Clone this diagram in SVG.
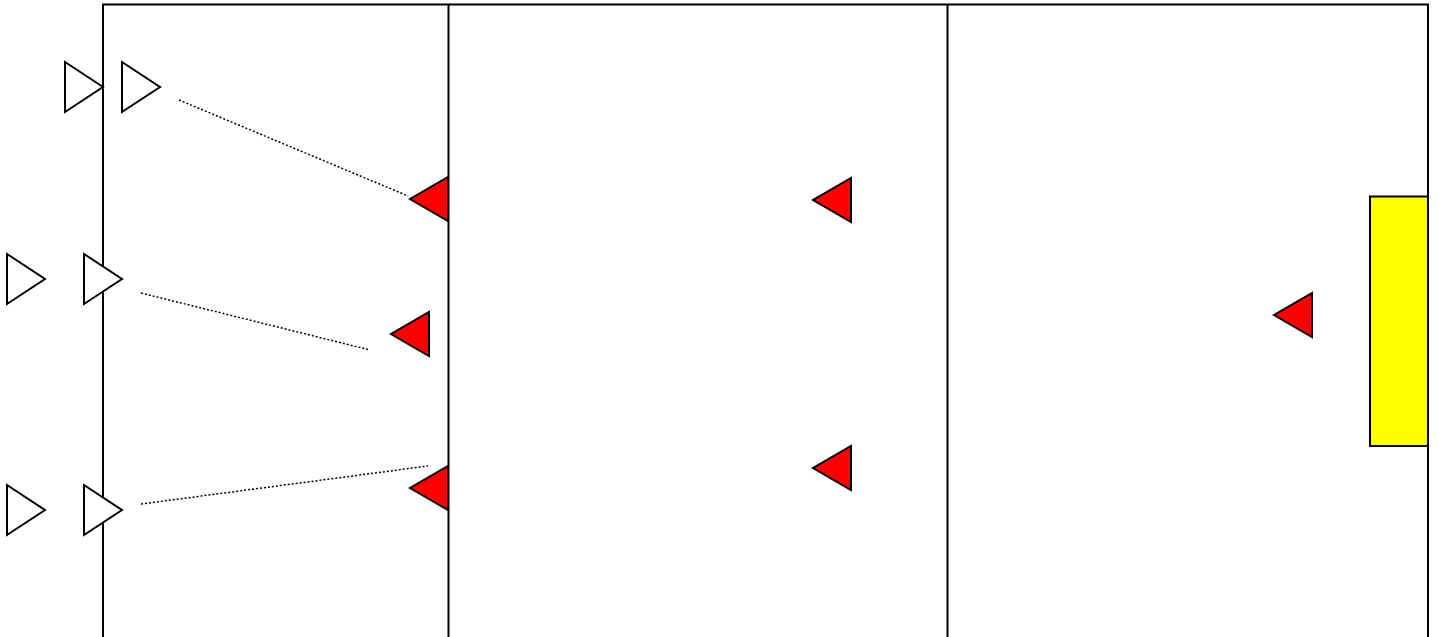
<svg xmlns="http://www.w3.org/2000/svg" width="1439" height="637" viewBox="0 0 1439 637">
<style>
.field{fill:none;stroke:#000;stroke-width:2}
.p{fill:#fff;stroke:#000;stroke-width:2}
.d{fill:#f00;stroke:#000;stroke-width:2}
.c{stroke:#000;stroke-width:1.5;stroke-dasharray:2 2;fill:none}
</style>
<rect width="1439" height="637" fill="#fff"/>
<g id="field">
<path class="field" d="M103,645 V4.5 H1428 V645"/>
<line class="field" x1="448.5" y1="4.5" x2="448.5" y2="645"/>
<line class="field" x1="947.5" y1="4.5" x2="947.5" y2="645"/>
</g>
<g id="goal"><rect x="1370" y="196.5" width="58" height="249.5" fill="#ff0" stroke="#000" stroke-width="2"/></g>
<g id="connectors">
<line class="c" x1="179" y1="100" x2="408" y2="196"/>
<line class="c" x1="141" y1="293" x2="370" y2="350"/>
<line class="c" x1="141" y1="504" x2="428" y2="466"/>
</g>
<g id="a1"><polygon class="p" points="65,62 103,87 65,112"/></g>
<g id="a2"><polygon class="p" points="122,62 160,87 122,112"/></g>
<g id="a3"><polygon class="p" points="7,254 45,279 7,304"/></g>
<g id="a4"><polygon class="p" points="84,254 122,279 84,304"/></g>
<g id="a5"><polygon class="p" points="7,485 45,510 7,535"/></g>
<g id="a6"><polygon class="p" points="84,485 122,510 84,535"/></g>
<g id="d1"><polygon class="d" points="448,177 448,221 410,199"/></g>
<g id="d2"><polygon class="d" points="429,312 429,356 391,334"/></g>
<g id="d3"><polygon class="d" points="448,466 448,510 410,488"/></g>
<g id="d4"><polygon class="d" points="851,178 851,222 813,200"/></g>
<g id="d5"><polygon class="d" points="851,446 851,490 813,468"/></g>
<g id="d6"><polygon class="d" points="1312,293 1312,337 1274,315"/></g>
</svg>
